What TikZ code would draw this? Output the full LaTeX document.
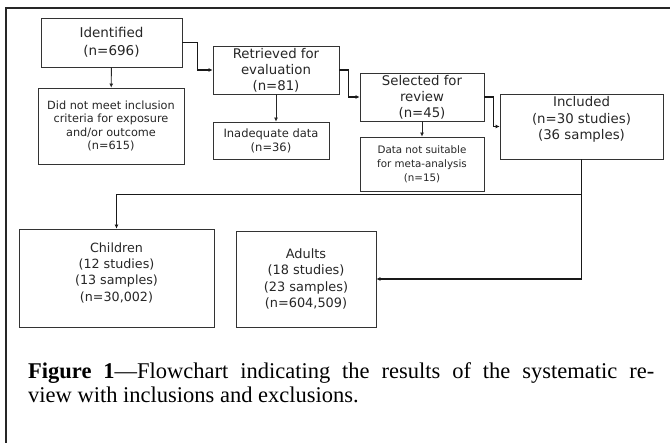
\documentclass[tikz,border=0pt]{standalone}
\usepackage{fontspec}
\setmainfont{Liberation Serif}
\newfontfamily\boxfont{DejaVu Sans}
\usetikzlibrary{arrows.meta}

\tikzset{
    box/.style={draw=black!80, line width=0.8pt, align=center, inner sep=1pt, text=black!85},
    down/.style={draw=black!85, line width=0.9pt, -{Latex[length=4pt,width=4pt]}},
    link/.style={draw=black!90, line width=1.7pt, -{Latex[length=4pt,width=4pt]}},
}

\begin{document}
\begin{tikzpicture}[x=1pt, y=-1pt]

    \useasboundingbox (0,0) rectangle (670,443);

    % Frame (top and left rules)
    \draw[line width=2.5pt, black!85] (670,8) -- (6,8) -- (6,443);

    % Search stage
    \node[box, minimum width=141pt, minimum height=49pt, font=\boxfont\fontsize{13.5}{18}\selectfont] (ident) at (111.5,42.5) {Identified\\(n=696)};
    \node[box, minimum width=146pt, minimum height=76pt, font=\boxfont\fontsize{11.3}{13.6}\selectfont] (nomeet) at (111,126) {Did not meet inclusion\\criteria for exposure\\and/or outcome\\(n=615)};

    % Evaluation stage
    \node[box, minimum width=126pt, minimum height=48pt, font=\boxfont\fontsize{13.3}{16}\selectfont] (retr) at (276,70) {Retrieved for\\evaluation\\(n=81)};
    \node[box, minimum width=116pt, minimum height=37pt, font=\boxfont\fontsize{11.5}{14}\selectfont] (inad) at (271,140.5) {Inadequate data\\(n=36)};

    % Review stage
    \node[box, minimum width=124pt, minimum height=48pt, font=\boxfont\fontsize{13.3}{16}\selectfont] (sel) at (422,97) {Selected for\\review\\(n=45)};
    \node[box, minimum width=124pt, minimum height=54pt, font=\boxfont\fontsize{10.3}{14}\selectfont] (notsuit) at (422,164) {Data not suitable\\for meta-analysis\\(n=15)};

    % Included studies
    \node[box, minimum width=163pt, minimum height=65pt, font=\boxfont\fontsize{13.3}{16.5}\selectfont] (incl) at (581.5,126.5) {Included\\(n=30 studies)\\(36 samples)\\\mbox{}};

    % Subgroups
    \node[box, minimum width=195pt, minimum height=98pt, font=\boxfont\fontsize{12.7}{16.3}\selectfont] (child) at (116.5,278) {Children\\(12 studies)\\(13 samples)\\(n=30,002)\\[-4pt]\mbox{}};
    \node[box, minimum width=140pt, minimum height=96pt, font=\boxfont\fontsize{12.9}{16.3}\selectfont] (adult) at (306,279) {Adults\\(18 studies)\\(23 samples)\\(n=604,509)};

    % Exclusion arrows
    \draw[down] (ident) -- (nomeet);
    \draw[down] (retr.south) -- (retr.south |- inad.north);
    \draw[down] (sel) -- (notsuit);

    % Main flow
    \draw[link] (ident.east) -- ++(15,0) |- (retr.west);
    \draw[link] (retr.east) -- ++(9,0) |- (sel.west);
    \draw[link] (sel.east) -- ++(9,0) |- (incl.west);

    % Split into children and adults
    \draw[link] (incl.south) |- (adult.east);
    \draw[link] (incl.south) -- ++(0,35) -| (child.north);

    % Caption
    \node[anchor=base west, inner sep=0pt] (caption) at (28,379) {\parbox[t]{626pt}{\fontsize{22.5}{24}\selectfont\textbf{Figure 1}---Flowchart indicating the results of the systematic re-\linebreak view with inclusions and exclusions.}};

\end{tikzpicture}
\end{document}
